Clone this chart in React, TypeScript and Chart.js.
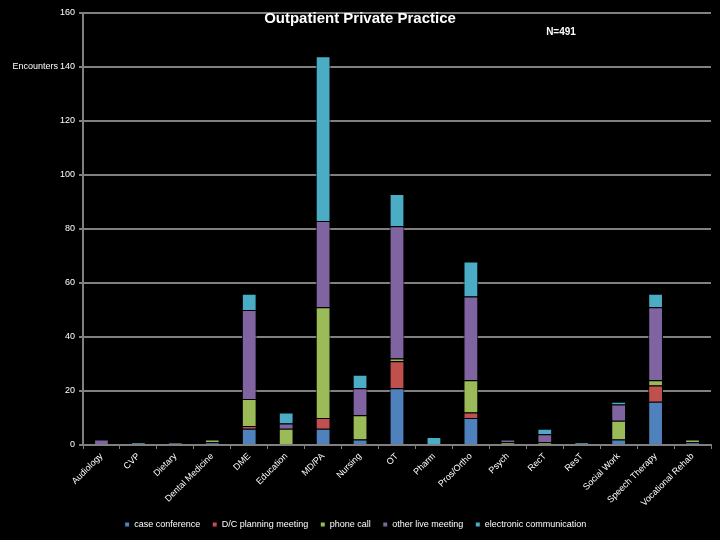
import React, { useEffect, useRef } from "react";
import { Chart, registerables } from "chart.js";

Chart.register(...registerables);

const categories = [
  "Audiology", "CVP", "Dietary", "Dental Medicine", "DME", "Education", "MD/PA",
  "Nursing", "OT", "Pharm", "Pros/Ortho", "Psych", "RecT", "ResT",
  "Social Work", "Speech Therapy", "Vocational Rehab",
];
const caseConference = [0, 0, 0, 1, 6, 0, 6, 2, 21, 0, 10, 0, 0, 0, 2, 16, 1];
const dcPlanning = [0, 0, 0, 0, 1, 0, 4, 0, 10, 0, 2, 0, 0, 0, 0, 6, 0];
const phoneCall = [0, 0, 0, 1, 10, 6, 41, 9, 1, 0, 12, 1, 1, 0, 7, 2, 1];
const otherLive = [2, 0, 1, 0, 33, 2, 32, 10, 49, 0, 31, 1, 3, 0, 6, 27, 0];
const electronic = [0, 1, 0, 0, 6, 4, 61, 5, 12, 3, 13, 0, 2, 1, 1, 5, 0];

const seriesNames = [
  "case conference", "D/C planning meeting", "phone call",
  "other live meeting", "electronic communication",
];
const seriesColors = ["#4F81BD", "#C0504D", "#9BBB59", "#8064A2", "#4BACC6"];

const titleText = "Outpatient Private Practice";
const nText = "N=491";
const yLabel = "Encounters";

const FONT = '"Liberation Sans", "DejaVu Sans", sans-serif';

const textPlugin = {
  id: "extraText",
  afterDraw(chart: any) {
    const ctx = chart.ctx;
    ctx.save();
    ctx.fillStyle = "#ffffff";
    ctx.textBaseline = "middle";
    ctx.textAlign = "center";
    ctx.font = `bold 15px ${FONT}`;
    ctx.fillText(titleText, 360, 19);
    ctx.font = `bold 10px ${FONT}`;
    ctx.fillText(nText, 561, 32);
    ctx.textAlign = "right";
    ctx.font = `9px ${FONT}`;
    const y = chart.scales.y.getPixelForValue(140);
    ctx.fillText(yLabel, 58, y);
    ctx.restore();
  },
};

export default function App() {
  const ref = useRef<HTMLCanvasElement | null>(null);
  useEffect(() => {
    if (!ref.current) return;
    const data = [caseConference, dcPlanning, phoneCall, otherLive, electronic];
    const chart = new Chart(ref.current, {
      type: "bar",
      data: {
        labels: categories,
        datasets: data.map((d, i) => ({
          label: seriesNames[i],
          data: d,
          backgroundColor: seriesColors[i],
          borderColor: "#000000",
          borderWidth: 1,
          categoryPercentage: 1,
          barPercentage: 0.4,
        })),
      },
      options: {
        animation: false,
        responsive: true,
        maintainAspectRatio: false,
        layout: { padding: { top: 13, right: 9, left: 0, bottom: 1 } },
        plugins: {
          title: { display: false },
          tooltip: { enabled: false },
          legend: {
            position: "bottom",
            labels: {
              color: "#ffffff",
              font: { size: 9, family: FONT },
              usePointStyle: true,
              pointStyle: "rect",
              boxWidth: 5,
              boxHeight: 5,
              padding: 12,
            },
          },
        },
        scales: {
          x: {
            stacked: true,
            afterFit: (s: any) => { s.height = 63; },
            grid: {
              display: true,
              drawOnChartArea: false,
              drawTicks: true,
              tickLength: 4,
              color: "#808080",
              lineWidth: 1,
            },
            border: { color: "#808080", width: 2 },
            ticks: {
              color: "#ffffff",
              font: { size: 9, family: FONT },
              maxRotation: 45,
              minRotation: 45,
              autoSkip: false,
              padding: 2,
            },
          },
          y: {
            stacked: true,
            min: 0,
            max: 160,
            afterFit: (s: any) => { s.width = 83; },
            grid: {
              color: "#808080",
              lineWidth: 2,
              drawTicks: true,
              tickLength: 4,
            },
            border: { color: "#808080", width: 2 },
            ticks: {
              stepSize: 20,
              color: "#ffffff",
              font: { size: 9, family: FONT },
              padding: 4,
            },
          },
        },
      },
      plugins: [textPlugin],
    });
    return () => chart.destroy();
  }, []);
  return (
    <div style={{ position: "fixed", left: 0, top: 0, width: 720, height: 540, background: "#000000" }}>
      <canvas ref={ref} />
    </div>
  );
}
